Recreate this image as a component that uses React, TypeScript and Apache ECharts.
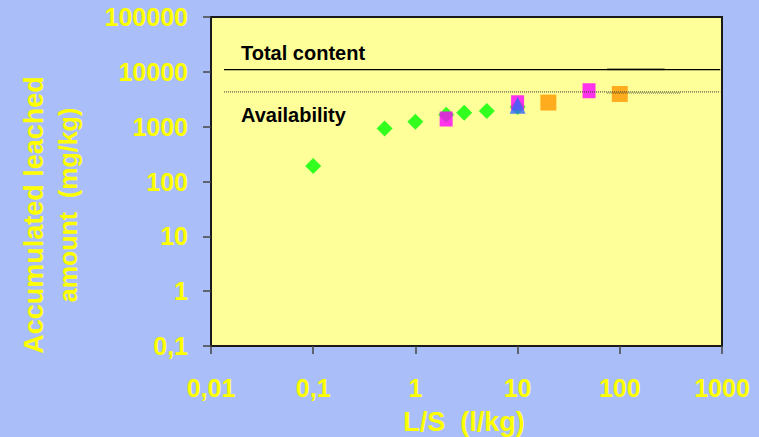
import React, { useEffect, useRef } from "react";
import * as echarts from "echarts";

// ---- Data ----
const xTickLabels = ["0,01", "0,1", "1", "10", "100", "1000"];
const yTickLabels = ["0,1", "1", "10", "100", "1000", "10000", "100000"];

const greenX = [0.1, 0.5, 1, 2, 3, 5, 10];
const greenY = [191, 930, 1230, 1650, 1790, 1930, 2280];

const magentaX = [2, 10, 50];
const magentaY = [1380, 2730, 4520];

const blueX = [10];
const blueY = [2450];

const orangeX = [20, 100];
const orangeY = [2750, 3950];

const totalContent = 11000;
const availability = 4300;
const refLineRange = [0.0134, 960];

const extraSolidRange = [75, 275];
const extraSolidValue = 11200;
const extraDottedRange = [75, 390];
const extraDottedValue = 4100;

const xAxisTitle = "L/S  (l/kg)";
const yAxisTitleLine1 = "Accumulated leached";
const yAxisTitleLine2 = "amount  (mg/kg)";
const totalLabel = "Total content";
const availLabel = "Availability";

const FONT = 'Arial, "Liberation Sans", sans-serif';
const YELLOW = "#FFFF00";

const zip = (xs: number[], ys: number[]) => xs.map((x, i) => [x, ys[i]]);

export default function App() {
  const ref = useRef<HTMLDivElement>(null);

  useEffect(() => {
    if (!ref.current) return;
    const chart = echarts.init(ref.current, null, { renderer: "svg" });
    chart.setOption({
      animation: false,
      backgroundColor: "#AABFF9",
      grid: {
        left: 211,
        top: 17,
        width: 511,
        height: 329,
        show: true,
        backgroundColor: "#FFFF99",
        borderColor: "#1a1a1a",
        borderWidth: 2,
        containLabel: false,
        outerBoundsMode: "none",
      },
      xAxis: {
        type: "log",
        logBase: 10,
        min: 0.01,
        max: 1000,
        name: xAxisTitle,
        nameLocation: "middle",
        nameGap: 62,
        nameTextStyle: {
          color: YELLOW,
          fontFamily: FONT,
          fontWeight: "bold",
          fontSize: 27,
          padding: [0, 5, 0, 0],
        },
        axisLine: { show: true, lineStyle: { color: "#1a1a1a", width: 2 } },
        axisTick: { show: true, inside: false, length: 8, lineStyle: { color: "#444", width: 1.5 } },
        minorTick: { show: false },
        splitLine: { show: false },
        axisLabel: {
          color: YELLOW,
          fontFamily: FONT,
          fontWeight: "bold",
          fontSize: 25,
          margin: 29,
          formatter: (v: number) => xTickLabels[Math.round(Math.log10(v)) + 2] ?? "",
        },
      },
      yAxis: {
        type: "log",
        logBase: 10,
        min: 0.1,
        max: 100000,
        axisLine: { show: true, lineStyle: { color: "#1a1a1a", width: 2 } },
        axisTick: { show: true, inside: false, length: 8, lineStyle: { color: "#444", width: 1.5 } },
        splitLine: { show: false },
        axisLabel: {
          color: YELLOW,
          fontFamily: FONT,
          fontWeight: "bold",
          fontSize: 25,
          margin: 23,
          formatter: (v: number) => yTickLabels[Math.round(Math.log10(v)) + 1] ?? "",
        },
      },
      series: [
        {
          type: "scatter",
          symbol: "diamond",
          symbolSize: 16,
          itemStyle: { color: "#00FF00" },
          data: zip(greenX, greenY),
          z: 2,
        },
        {
          type: "scatter",
          symbol: "rect",
          symbolSize: [13, 15],
          itemStyle: { color: "#FF00FF" },
          data: zip(magentaX, magentaY),
          z: 2,
        },
        {
          type: "scatter",
          symbol: "triangle",
          symbolSize: [16, 17],
          itemStyle: { color: "#3366FF" },
          data: zip(blueX, blueY),
          z: 2,
        },
        {
          type: "scatter",
          symbol: "rect",
          symbolSize: 16,
          itemStyle: { color: "#FF9900" },
          data: zip(orangeX, orangeY),
          z: 2,
        },
        {
          type: "line",
          symbol: "none",
          lineStyle: { color: "#000000", width: 1.2 },
          data: refLineRange.map((x) => [x, totalContent]),
          z: 4,
        },
        {
          type: "line",
          symbol: "none",
          lineStyle: { color: "#333333", width: 1, type: [1, 1] },
          data: refLineRange.map((x) => [x, availability]),
          z: 4,
        },
        {
          type: "line",
          symbol: "none",
          lineStyle: { color: "rgba(60,60,60,0.6)", width: 2 },
          data: extraSolidRange.map((x) => [x, extraSolidValue]),
          z: 3,
        },
        {
          type: "line",
          symbol: "none",
          lineStyle: { color: "rgba(40,40,40,0.7)", width: 1, type: [1, 1] },
          data: extraDottedRange.map((x) => [x, extraDottedValue]),
          z: 3,
        },
      ],
      graphic: [
        {
          type: "text",
          x: 33.5,
          y: 215,
          rotation: Math.PI / 2,
          style: {
            text: yAxisTitleLine1,
            fill: YELLOW,
            font: `bold 27px ${FONT}`,
            align: "center",
            verticalAlign: "middle",
          },
        },
        {
          type: "text",
          x: 68,
          y: 205,
          rotation: Math.PI / 2,
          style: {
            text: yAxisTitleLine2,
            fill: YELLOW,
            font: `bold 25px ${FONT}`,
            align: "center",
            verticalAlign: "middle",
          },
        },
        {
          type: "text",
          x: 241,
          y: 52.5,
          style: {
            text: totalLabel,
            fill: "#000",
            font: `bold 20px ${FONT}`,
            align: "left",
            verticalAlign: "middle",
          },
        },
        {
          type: "text",
          x: 241,
          y: 115,
          style: {
            text: availLabel,
            fill: "#000",
            font: `bold 20px ${FONT}`,
            align: "left",
            verticalAlign: "middle",
          },
        },
      ],
    });
    return () => chart.dispose();
  }, []);

  return (
    <div
      ref={ref}
      style={{ position: "fixed", left: 0, top: 0, width: 759, height: 437 }}
    />
  );
}
